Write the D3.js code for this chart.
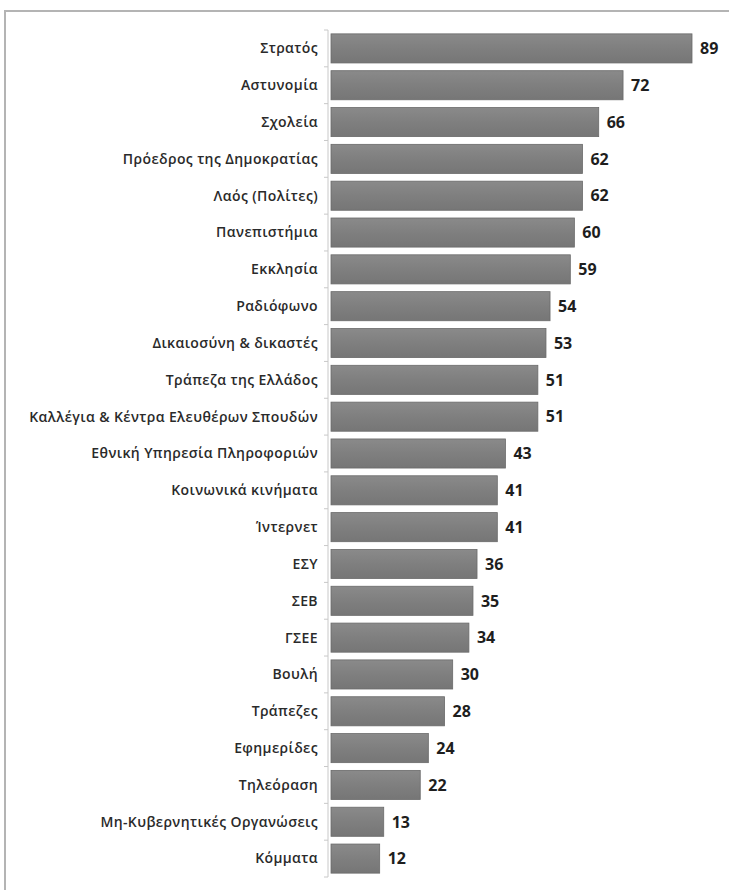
<!DOCTYPE html>
<html><head><meta charset="utf-8">
<script src="https://cdn.jsdelivr.net/npm/d3@7"></script>
<style>
html,body{margin:0;padding:0;background:#fff;}
svg{display:block;}
</style></head>
<body>
<script>
const categories = ["Στρατός","Αστυνομία","Σχολεία","Πρόεδρος της Δημοκρατίας","Λαός (Πολίτες)","Πανεπιστήμια","Εκκλησία","Ραδιόφωνο","Δικαιοσύνη & δικαστές","Τράπεζα της Ελλάδος","Καλλέγια & Κέντρα Ελευθέρων Σπουδών","Εθνική Υπηρεσία Πληροφοριών","Κοινωνικά κινήματα","Ίντερνετ","ΕΣΥ","ΣΕΒ","ΓΣΕΕ","Βουλή","Τράπεζες","Εφημερίδες","Τηλεόραση","Μη-Κυβερνητικές Οργανώσεις","Κόμματα"];
const values = [89,72,66,62,62,60,59,54,53,51,51,43,41,41,36,35,34,30,28,24,22,13,12];

const W = 729, H = 890;
const svg = d3.select("body").append("svg").attr("width", W).attr("height", H);

const defs = svg.append("defs");
const grad = defs.append("linearGradient").attr("id","barGrad").attr("x1",0).attr("y1",0).attr("x2",0).attr("y2",1);
grad.append("stop").attr("offset","0%").attr("stop-color","#8a8a8a");
grad.append("stop").attr("offset","50%").attr("stop-color","#7f7f7f");
grad.append("stop").attr("offset","100%").attr("stop-color","#767676");

// frame (top and left edges)
svg.append("path").attr("d","M5,890 V11 H729").attr("fill","none").attr("stroke","#b4b4b4").attr("stroke-width",2);

const x0 = 331;
const x = d3.scaleLinear().domain([0, 89]).range([x0, 692]);
const y = d3.scaleBand().domain(categories).range([30, 877]).paddingInner(0.21).paddingOuter(0.105);

// axis line with ticks between categories
const axisG = svg.append("g");
axisG.append("line").attr("x1",x0-3).attr("x2",x0-3).attr("y1",30).attr("y2",877).attr("stroke","#c8c8c8").attr("stroke-width",1);
const step = y.step();
axisG.selectAll("line.tk").data(d3.range(categories.length+1)).join("line")
  .attr("class","tk")
  .attr("x1",x0-7).attr("x2",x0-3)
  .attr("y1",i=>30+i*step).attr("y2",i=>30+i*step)
  .attr("stroke","#c8c8c8");

svg.selectAll("rect.bar").data(categories).join("rect")
  .attr("class","bar")
  .attr("x", x0)
  .attr("y", d=>y(d))
  .attr("width", (d,i)=>x(values[i])-x0)
  .attr("height", y.bandwidth())
  .attr("fill","url(#barGrad)")
  .attr("stroke","#6a6a6a").attr("stroke-width",0.8);

svg.selectAll("text.cat").data(categories).join("text")
  .attr("class","cat")
  .attr("x", 318)
  .attr("y", d=>y(d)+y.bandwidth()/2)
  .attr("dy","0.35em")
  .attr("text-anchor","end")
  .attr("font-family","'Open Sans', sans-serif")
  .attr("font-size",14)
  .attr("font-weight",600)
  .attr("letter-spacing","0.4px")
  .attr("fill","#2a2a2a")
  .text(d=>d);

svg.selectAll("text.val").data(categories).join("text")
  .attr("class","val")
  .attr("x", (d,i)=>x(values[i])+8)
  .attr("y", d=>y(d)+y.bandwidth()/2)
  .attr("dy","0.36em")
  .attr("font-family","'Open Sans', sans-serif")
  .attr("font-size",16)
  .attr("font-weight",700)
  .attr("fill","#1e1e1e")
  .text((d,i)=>values[i]);
</script>
</body></html>
